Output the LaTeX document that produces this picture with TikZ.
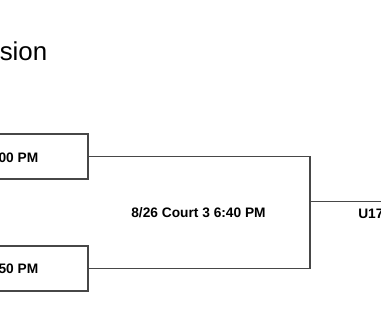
\documentclass[tikz,border=0pt]{standalone}
\usepackage{fontspec}
\setmainfont{Liberation Sans}
\begin{document}
\begin{tikzpicture}[x=0.75pt,y=-0.75pt,
  box/.style={draw=black!72,line width=0.9pt,minimum width=234*0.75pt,minimum height=45*0.75pt,inner sep=0pt},
  wire/.style={draw=black!72,line width=0.9pt},
  lbl/.style={font=\fontsize{10.3pt}{12pt}\selectfont\bfseries,inner sep=0pt},
  ttl/.style={font=\fontsize{19.4pt}{23pt}\selectfont,inner sep=0pt}]
\useasboundingbox (0,0) rectangle (381,315);
\clip (0,0) rectangle (381,315);
\node[ttl,anchor=base east] (title) at (47.5,60) {sion};
\node[box] (b1) at (-29,156.5) {};
\node[box] (b2) at (-29,268.5) {};
\node[lbl,anchor=base east] (t1) at (38.5,162) {00 PM};
\node[lbl,anchor=base east] (t2) at (38.5,273) {50 PM};
\coordinate (j) at (310,201.5);
\coordinate (out) at (395,201.5);
\draw[wire] (b1.east) -| (j) |- (b2.east);
\draw[wire] (j) -- (out);
\node[lbl,anchor=base] (m) at (198.5,217.7) {8/26 Court 3 6:40 PM};
\node[lbl,anchor=base west] (u) at (358,218) {U17};
\end{tikzpicture}
\end{document}
